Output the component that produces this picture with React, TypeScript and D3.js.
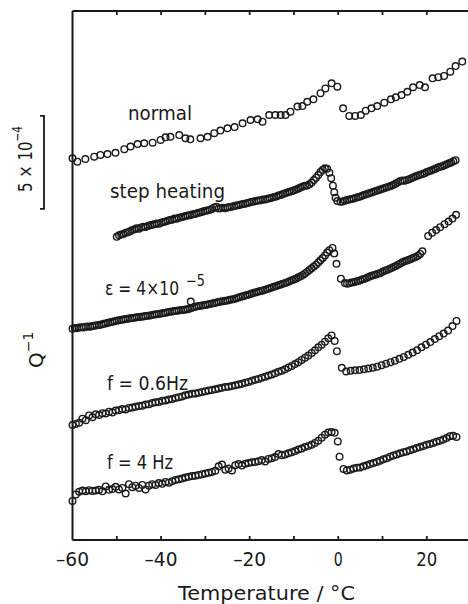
import React from "react";
import * as d3 from "d3";

const W = 468;
const H = 604;

// x ticks every 10 °C, labels every 20 °C
const xTicks = [-50, -40, -30, -20, -10, 0, 10, 20];
const xLabelValues = [-60, -40, -20, 0, 20];
const xLabelTexts = ["\u201360", "\u201340", "\u201320", "0", "20"];

// Q^-1 in units of 1e-4 (curves are offset from each other)
// "normal" run: [T, Q]
const normalPts: [number, number][] = [
  [-60, 20.52], [-58.9, 20.34], [-57.1, 20.48], [-55.1, 20.61], [-53.7, 20.7], [-52.1, 20.75],
  [-50.3, 20.82], [-48.3, 21.01], [-46.9, 21.15], [-45.3, 21.29], [-43.8, 21.33], [-41.9, 21.36],
  [-40.1, 21.51], [-39.0, 21.65], [-37.9, 21.68], [-35.9, 21.77], [-34.5, 21.6], [-33.4, 21.54],
  [-31.1, 21.6], [-29.5, 21.68], [-28.0, 21.87], [-26.6, 22.01], [-25.0, 22.13], [-23.4, 22.2],
  [-21.6, 22.4], [-19.8, 22.58], [-18.2, 22.62], [-17.1, 22.49], [-15.6, 22.85], [-14.2, 22.85],
  [-13.0, 22.85], [-11.9, 22.85], [-10.8, 23.03], [-9.2, 23.3], [-8.1, 23.33], [-7.0, 23.56],
  [-5.6, 23.69], [-4.0, 24.02], [-2.9, 24.28], [-1.5, 24.55], [-0.2, 24.37],
  [1.1, 23.21], [2.5, 22.8], [3.8, 22.8], [5.1, 22.85], [6.2, 23.08], [7.5, 23.21], [8.8, 23.33],
  [10.4, 23.51], [11.9, 23.69], [13.0, 23.8], [14.3, 23.92], [15.6, 24.1], [16.9, 24.34],
  [18.4, 24.46], [19.6, 24.34], [21.3, 24.82], [22.6, 24.88], [23.9, 24.95], [25.3, 25.18],
  [26.5, 25.48], [28.0, 25.72],
];

// step heating: -50 .. -2.5 every 0.5 °C
const stepPre = [
  16.30, 16.38, 16.42, 16.45, 16.52, 16.55, 16.60, 16.66, 16.70, 16.76,
  16.74, 16.80, 16.84, 16.83, 16.88, 16.92, 16.95, 16.97, 17.02, 17.00,
  17.06, 17.10, 17.12, 17.17, 17.20, 17.22, 17.28, 17.27, 17.32, 17.35,
  17.38, 17.42, 17.44, 17.46, 17.50, 17.52, 17.55, 17.60, 17.62, 17.66,
  17.70, 17.72, 17.76, 17.80, 17.88, 17.92, 17.82, 17.84, 17.86, 17.84,
  17.88, 17.90, 17.92, 17.95, 17.98, 18.00, 18.04, 18.06, 18.08, 18.12,
  18.15, 18.19, 18.20, 18.24, 18.25, 18.27, 18.30, 18.31, 18.34, 18.37,
  18.40, 18.44, 18.47, 18.52, 18.55, 18.60, 18.64, 18.68, 18.72, 18.75,
  18.80, 18.84, 18.90, 18.95, 19.00, 19.04, 19.06, 19.12, 19.22, 19.35,
  19.48, 19.62, 19.78, 19.90, 19.98, 19.96,
];
const stepDrop: [number, number][] = [
  [-2, 19.75], [-1.6, 19.45], [-1.2, 19.05], [-0.9, 18.7], [-0.6, 18.4], [-0.2, 18.22],
];
// 0.5 .. 26.5 every 0.5 °C
const stepPost = [
  18.18, 18.20, 18.24, 18.28, 18.30, 18.33, 18.36, 18.40, 18.44, 18.47,
  18.52, 18.56, 18.60, 18.64, 18.68, 18.72, 18.76, 18.80, 18.84, 18.88,
  18.93, 18.96, 19.00, 19.05, 19.10, 19.16, 19.24, 19.30, 19.33, 19.32,
  19.36, 19.40, 19.45, 19.50, 19.55, 19.60, 19.64, 19.68, 19.72, 19.78,
  19.82, 19.86, 19.92, 19.96, 20.02, 20.06, 20.10, 20.15, 20.20, 20.25,
  20.30, 20.36, 20.42,
];

// eps = 4e-5: -60 .. -2 every 0.5 °C
const epsPre = [
  11.36, 11.40, 11.38, 11.42, 11.44, 11.43, 11.46, 11.48, 11.47, 11.50,
  11.52, 11.54, 11.56, 11.58, 11.62, 11.64, 11.68, 11.70, 11.73, 11.76,
  11.79, 11.82, 11.84, 11.85, 11.88, 11.89, 11.92, 11.93, 11.95, 11.97,
  11.99, 12.00, 12.02, 12.04, 12.05, 12.07, 12.10, 12.12, 12.14, 12.15,
  12.18, 12.20, 12.22, 12.25, 12.27, 12.29, 12.31, 12.32, 12.34, 12.36,
  12.37, 12.39, 12.41, 12.44, 12.48, 12.52, 12.55, 12.58, 12.60, 12.62,
  12.64, 12.66, 12.69, 12.71, 12.74, 12.77, 12.80, 12.82, 12.84, 12.86,
  12.88, 12.91, 12.93, 12.96, 13.00, 13.04, 13.08, 13.11, 13.14, 13.17,
  13.21, 13.25, 13.29, 13.32, 13.36, 13.39, 13.42, 13.46, 13.50, 13.53,
  13.57, 13.61, 13.65, 13.69, 13.73, 13.77, 13.82, 13.86, 13.91, 13.96,
  14.01, 14.06, 14.12, 14.18, 14.25, 14.33, 14.42, 14.52, 14.61, 14.70,
  14.80, 14.92, 15.04, 15.16, 15.30, 15.45, 15.58,
];
const epsExtra: [number, number][] = [
  [-33.3, 12.82], [-1.3, 15.7], [-0.9, 15.4], [-0.4, 14.85], [0.6, 14.05],
];
// 1.5 .. 19 every 0.5 °C
const epsPost = [
  13.82, 13.78, 13.80, 13.84, 13.86, 13.90, 13.93, 13.97, 14.02, 14.05,
  14.10, 14.15, 14.20, 14.24, 14.27, 14.32, 14.36, 14.42, 14.48, 14.52,
  14.57, 14.62, 14.68, 14.73, 14.80, 14.87, 14.93, 14.98, 15.02, 15.07,
  15.12, 15.18, 15.22, 15.28, 15.38, 15.52,
];
const epsTail: [number, number][] = [
  [20.3, 16.35], [21.2, 16.52], [22.1, 16.66], [23.0, 16.82], [24.0, 16.98], [24.9, 17.12],
  [25.8, 17.28], [26.6, 17.48],
];

// f = 0.6 Hz: -60 .. -2.25 every 0.75 °C
const f06Pre = [
  6.18, 6.24, 6.30, 6.52, 6.44, 6.70, 6.60, 6.76, 6.72, 6.82,
  6.80, 6.90, 6.86, 6.96, 6.98, 7.04, 7.02, 7.10, 7.12, 7.16,
  7.20, 7.22, 7.28, 7.30, 7.36, 7.40, 7.42, 7.48, 7.50, 7.55,
  7.58, 7.64, 7.68, 7.72, 7.78, 7.82, 7.86, 7.88, 7.92, 7.96,
  8.00, 8.04, 8.06, 8.10, 8.14, 8.18, 8.22, 8.24, 8.28, 8.32,
  8.36, 8.40, 8.46, 8.50, 8.56, 8.62, 8.66, 8.72, 8.78, 8.84,
  8.90, 8.96, 9.04, 9.10, 9.18, 9.28, 9.36, 9.46, 9.56, 9.68,
  9.80, 9.92, 10.06, 10.20, 10.36, 10.50, 10.66, 10.84,
];
const f06Extra: [number, number][] = [
  [-1.5, 11.0], [-0.8, 10.7], [-0.3, 10.15], [26.7, 11.78],
];
// 0.8 .. 25.8 every 1 °C
const f06Post = [
  9.26, 9.06, 9.10, 9.12, 9.14, 9.18, 9.22, 9.26, 9.32, 9.40,
  9.48, 9.56, 9.64, 9.74, 9.84, 9.96, 10.08, 10.20, 10.36, 10.50,
  10.64, 10.80, 10.96, 11.10, 11.26, 11.50,
];

// f = 4 Hz: -60 .. -2.25 every 0.75 °C
const f4Pre = [
  2.10, 2.45, 2.60, 2.66, 2.62, 2.68, 2.64, 2.66, 2.70, 2.62,
  2.88, 2.70, 2.74, 2.86, 2.72, 2.80, 2.50, 3.00, 2.84, 2.92,
  2.80, 2.96, 2.72, 2.92, 3.00, 2.96, 3.06, 3.02, 3.12, 3.08,
  3.16, 3.22, 3.26, 3.30, 3.36, 3.40, 3.44, 3.46, 3.50, 3.54,
  3.58, 3.62, 3.66, 3.72, 3.96, 4.06, 3.78, 3.84, 3.74, 4.02,
  4.08, 4.00, 4.10, 4.14, 4.18, 4.20, 4.24, 4.30, 4.22, 4.36,
  4.40, 4.46, 4.62, 4.56, 4.60, 4.66, 4.72, 4.78, 4.86, 4.92,
  5.00, 5.06, 5.12, 5.22, 5.34, 5.50, 5.66, 5.78,
];
const f4Drop: [number, number][] = [
  [-1.5, 5.8], [-0.8, 5.76], [-0.1, 5.3], [0.3, 4.48],
];
// 1.2 .. 26.7 every 0.75 °C
const f4Post = [
  3.82, 3.74, 3.78, 3.84, 3.88, 3.90, 3.96, 4.02, 4.08, 4.14,
  4.20, 4.26, 4.34, 4.40, 4.48, 4.54, 4.60, 4.66, 4.72, 4.76,
  4.82, 4.88, 4.94, 5.00, 5.06, 5.12, 5.16, 5.22, 5.28, 5.34,
  5.40, 5.48, 5.58, 5.60, 5.54,
];

// temperatures on a regular grid -> [T, Q] pairs
const grid = (t0: number, dt: number, q: number[]): [number, number][] =>
  q.map((v, i) => [t0 + i * dt, v]);

const series: [number, number][][] = [
  normalPts,
  [...grid(-50, 0.5, stepPre), ...stepDrop, ...grid(0.5, 0.5, stepPost)],
  [...grid(-60, 0.5, epsPre), ...epsExtra, ...grid(1.5, 0.5, epsPost), ...epsTail],
  [...grid(-60, 0.75, f06Pre), ...f06Extra, ...grid(0.8, 1, f06Post)],
  [...grid(-60, 0.75, f4Pre), ...f4Drop, ...grid(1.2, 0.75, f4Post)],
];

const font = "'DejaVu Sans', sans-serif";

// text squeezed/stretched to the width it has in the figure
const Label = ({ x, y, w, size = 20, children, ...rest }: any) => (
  <text x={x} y={y} fontSize={size} textLength={w} lengthAdjust="spacingAndGlyphs" {...rest}>
    {children}
  </text>
);

export default function App() {
  const x = d3.scaleLinear().domain([-60, 29.3]).range([72.5, 468]);
  const y = d3.scaleLinear().domain([0, 28.44]).range([540, 11]);
  const x0 = x(-60);
  const yTop = y(28.44);
  const yBot = y(0);
  const ink = "#1a1a1a";

  // scale bar: 5e-4
  const barLo = y(17.8);
  const barHi = y(22.8);

  const tickW = (s: string) => (s.length === 1 ? 9 : s.length === 2 ? 21 : 33);

  return (
    <svg
      width={W}
      height={H}
      style={{ position: "absolute", left: 0, top: 0, background: "#fff" }}
      fontFamily={font}
      fill={ink}
    >
      <rect width={W} height={H} fill="#fff" />

      {/* frame */}
      <line x1={x0} x2={x0} y1={yTop} y2={yBot} stroke={ink} strokeWidth={2} />
      <line x1={x0} x2={W} y1={yTop} y2={yTop} stroke={ink} strokeWidth={2} />
      <line x1={x0} x2={W} y1={yBot} y2={yBot} stroke={ink} strokeWidth={2} />
      {xTicks.map((t) => (
        <g key={t}>
          <line x1={x(t)} x2={x(t)} y1={yTop} y2={yTop + 4} stroke={ink} strokeWidth={1.8} />
          <line x1={x(t)} x2={x(t)} y1={yBot} y2={yBot - 4} stroke={ink} strokeWidth={1.8} />
        </g>
      ))}
      {xLabelValues.map((t, i) => {
        const s = xLabelTexts[i];
        const w = tickW(s);
        return (
          <Label key={t} x={x(t) - w / 2} y={566} w={w} size={19}>
            {s}
          </Label>
        );
      })}
      <Label x={178} y={600} w={177} size={20}>
        Temperature / °C
      </Label>

      {/* y label */}
      <text transform="translate(43,368) rotate(-90)" fontSize={20}>
        Q<tspan dy={-10} fontSize={14}>{"\u22121"}</tspan>
      </text>

      {/* scale bar */}
      <path
        d={`M40,${barHi}H44V${barLo}H40`}
        fill="none"
        stroke={ink}
        strokeWidth={1.8}
      />
      <g transform="translate(32,192) rotate(-90)">
        <Label x={0} y={0} w={66} size={20}>
          5 × 10<tspan dy={-10} fontSize={14}>{"\u22124"}</tspan>
        </Label>
      </g>

      {/* curve labels */}
      <Label x={128} y={120} w={64}>normal</Label>
      <Label x={110} y={198} w={115}>step heating</Label>
      <text transform="translate(105,295) scale(0.82,1)" fontSize={19}>
        ε = 4×10
      </text>
      <text transform="translate(186,286) scale(0.85,1)" fontSize={15}>
        {"\u22125"}
      </text>
      <Label x={107} y={390} w={81}>f = 0.6Hz</Label>
      <Label x={107} y={469} w={66}>f = 4 Hz</Label>

      {/* data */}
      {series.map((pts, si) => (
        <g key={si} fill="none" stroke={ink} strokeWidth={1.4}>
          {pts.map(([t, q], i) => (
            <circle key={i} cx={x(t)} cy={y(q)} r={3.3} />
          ))}
        </g>
      ))}
    </svg>
  );
}
